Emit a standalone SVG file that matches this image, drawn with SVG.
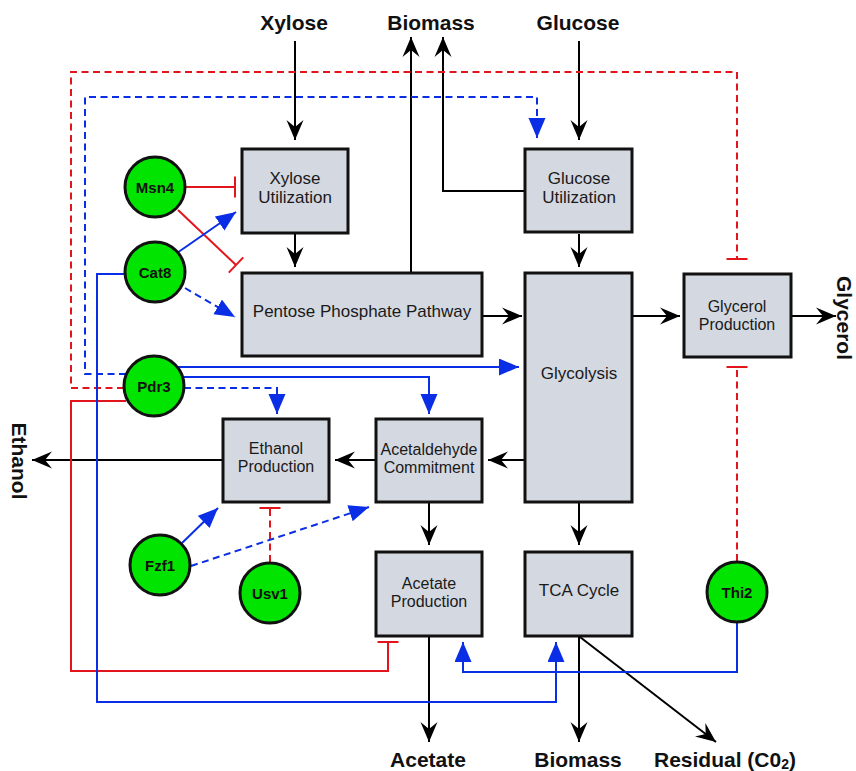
<svg xmlns="http://www.w3.org/2000/svg" width="856" height="771" viewBox="0 0 856 771">
<style>
.box{fill:#d4d8e0;stroke:#111;stroke-width:3}
.gene{fill:#00e400;stroke:#111;stroke-width:3}
.bt{font-family:"Liberation Sans",Arial,sans-serif;font-size:17px;fill:#1a1a1a;text-anchor:middle}
.bt2{font-family:"Liberation Sans",Arial,sans-serif;font-size:16px;fill:#1a1a1a;text-anchor:middle}
.gt{font-family:"Liberation Sans",Arial,sans-serif;font-size:15px;font-weight:bold;fill:#111;text-anchor:middle}
.lab{font-family:"Liberation Sans",Arial,sans-serif;font-size:21px;font-weight:bold;fill:#111;text-anchor:middle}
.k{fill:none;stroke:#000;stroke-width:2;marker-end:url(#ah)}
.rs{fill:none;stroke:#e3151c;stroke-width:2;marker-end:url(#bar)}
.rd{fill:none;stroke:#e3151c;stroke-width:2;stroke-dasharray:7 4.5;marker-end:url(#bar)}
.bs{fill:none;stroke:#0a2ee6;stroke-width:2;marker-end:url(#bh)}
.bd{fill:none;stroke:#0a2ee6;stroke-width:2;stroke-dasharray:7 4.5;marker-end:url(#bh)}
</style>
<defs>
<marker id="ah" markerUnits="userSpaceOnUse" markerWidth="22" markerHeight="20" viewBox="0 0 22 20" refX="20" refY="9" orient="auto">
<path d="M0,0.5 L20,9 L0,17.5 L7,9 Z" fill="#000"/>
</marker>
<marker id="bh" markerUnits="userSpaceOnUse" markerWidth="22" markerHeight="20" viewBox="0 0 22 20" refX="20" refY="8.5" orient="auto">
<path d="M0,0 L20,8.5 L0,17 Z" fill="#0a2ee6"/>
</marker>
<marker id="bar" markerUnits="userSpaceOnUse" markerWidth="4" markerHeight="24" viewBox="-2 -12 4 24" refX="0" refY="0" orient="auto">
<path d="M0,-10.5 V10.5" stroke="#e3151c" stroke-width="2" fill="none"/>
</marker>
</defs>

<g id="connectors">
<path class="k" d="M295,41 V140"/>
<path class="k" d="M295,234 V267"/>
<path class="k" d="M411,272 V37"/>
<path class="k" d="M524,191 H443 V37"/>
<path class="k" d="M579,41 V140"/>
<path class="k" d="M579,234 V267"/>
<path class="k" d="M483,316 H522"/>
<path class="k" d="M633,316 H680"/>
<path class="k" d="M792,316 H836"/>
<path class="k" d="M524,460 H488"/>
<path class="k" d="M375,460 H335"/>
<path class="k" d="M222,460 H32"/>
<path class="k" d="M429,503 V545"/>
<path class="k" d="M579,503 V545"/>
<path class="k" d="M429,637 V742"/>
<path class="k" d="M579,637 V742"/>
<path class="k" d="M580,637 L716,742"/>

<path class="rs" d="M185,187 H235"/>
<path class="rs" d="M178,210 L236,265"/>
<path class="rs" d="M126,401 H71 V671 H388 V642"/>
<path class="rd" d="M124,388 H71 V72 H737 V259"/>
<path class="rd" d="M270,562 V508"/>
<path class="rd" d="M737,561 V367"/>

<path class="bs" d="M177,253 L236,212"/>
<path class="bs" d="M124,274 H97 V702 H556 V642"/>
<path class="bs" d="M737,622 V672 H463 V642"/>
<path class="bs" d="M178,367 H519"/>
<path class="bs" d="M182,377 H429 V414"/>
<path class="bs" d="M182,543 L218,508"/>
<path class="bd" d="M184,388 H277 V414"/>
<path class="bd" d="M126,374 H85 V97 H537 V138"/>
<path class="bd" d="M185,288 L235,317"/>
<path class="bd" d="M191,566 L369,507"/>
</g>

<g id="xylose-utilization"><rect class="box" x="242" y="149" width="106" height="84"/><text class="bt"><tspan x="295" y="183.5">Xylose</tspan><tspan x="295" y="203">Utilization</tspan></text></g>
<g id="glucose-utilization"><rect class="box" x="525" y="149" width="107" height="83"/><text class="bt"><tspan x="579" y="183.5">Glucose</tspan><tspan x="579" y="203">Utilization</tspan></text></g>
<g id="pentose-phosphate-pathway"><rect class="box" x="242" y="273" width="240" height="83"/><text class="bt" x="362" y="317">Pentose Phosphate Pathway</text></g>
<g id="glycolysis"><rect class="box" x="525" y="273" width="107" height="229"/><text class="bt" x="579" y="379">Glycolysis</text></g>
<g id="glycerol-production"><rect class="box" x="684" y="274" width="107" height="83"/><text class="bt2"><tspan x="737" y="312">Glycerol</tspan><tspan x="737" y="330">Production</tspan></text></g>
<g id="ethanol-production"><rect class="box" x="223" y="419" width="106" height="83"/><text class="bt2"><tspan x="276" y="454">Ethanol</tspan><tspan x="276" y="472">Production</tspan></text></g>
<g id="acetaldehyde-commitment"><rect class="box" x="376" y="419" width="106" height="83"/><text class="bt2"><tspan x="429" y="455">Acetaldehyde</tspan><tspan x="429" y="473">Commitment</tspan></text></g>
<g id="acetate-production"><rect class="box" x="376" y="552" width="106" height="84"/><text class="bt2"><tspan x="429" y="589">Acetate</tspan><tspan x="429" y="607">Production</tspan></text></g>
<g id="tca-cycle"><rect class="box" x="525" y="552" width="107" height="84"/><text class="bt" x="579" y="596">TCA Cycle</text></g>

<g id="msn4"><circle class="gene" cx="155" cy="187" r="30"/><text class="gt" x="155" y="192.5">Msn4</text></g>
<g id="cat8"><circle class="gene" cx="155" cy="272" r="30"/><text class="gt" x="155" y="277.5">Cat8</text></g>
<g id="pdr3"><circle class="gene" cx="154" cy="386" r="30"/><text class="gt" x="154" y="391.5">Pdr3</text></g>
<g id="fzf1"><circle class="gene" cx="160" cy="565" r="30"/><text class="gt" x="160" y="570.5">Fzf1</text></g>
<g id="usv1"><circle class="gene" cx="270" cy="593" r="30"/><text class="gt" x="270" y="598.5">Usv1</text></g>
<g id="thi2"><circle class="gene" cx="737" cy="592" r="30"/><text class="gt" x="737" y="597.5">Thi2</text></g>

<g id="label-xylose"><text class="lab" x="294" y="29.5">Xylose</text></g>
<g id="label-biomass-top"><text class="lab" x="431" y="29.5">Biomass</text></g>
<g id="label-glucose"><text class="lab" x="578" y="29.5">Glucose</text></g>
<g id="label-glycerol"><text class="lab" transform="translate(837,318) rotate(90)">Glycerol</text></g>
<g id="label-ethanol"><text class="lab" transform="translate(12,461) rotate(90)">Ethanol</text></g>
<g id="label-acetate"><text class="lab" x="428" y="767">Acetate</text></g>
<g id="label-biomass-bottom"><text class="lab" x="578" y="767">Biomass</text></g>
<g id="label-residual"><text class="lab" x="725" y="767">Residual (C0<tspan font-size="14" dy="1.5">2</tspan><tspan dy="-1.5">)</tspan></text></g>
</svg>
